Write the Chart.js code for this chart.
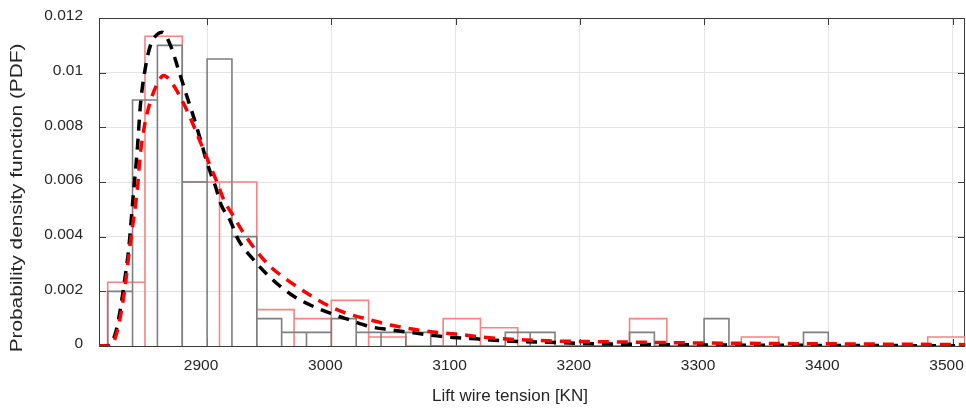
<!DOCTYPE html>
<html>
<head>
<meta charset="utf-8">
<style>
  body { margin: 0; background: #fff; }
  #wrap { width: 966px; height: 408px; }
</style>
<script src="https://cdn.jsdelivr.net/npm/chart.js"></script>
<title>Lift wire tension PDF</title>
</head>
<body>
<div id="wrap"><canvas id="pdf_chart" width="966" height="408"></canvas></div>
<script>
// histogram 1 (gray): bins of 20 starting at 2820
const grayStart = 2820;
const grayWidth = 20;
const grayValues = [
  0.002, 0.009, 0.011, 0.006, 0.0105, 0.004, 0.001, 0.0005, 0.0005, 0.001,
  0.0005, 0.0005, 0.0005, 0, 0, 0, 0.0005, 0.0005, 0, 0,
  0, 0.0005, 0, 0, 0.001, 0, 0, 0, 0.0005, 0,
  0, 0, 0, 0
];

// histogram 2 (red): bins of 30 starting at 2820
const redStart = 2820;
const redWidth = 30;
const redValues = [
  0.00233, 0.01133, 0.006, 0.006, 0.00133, 0.001, 0.00167, 0.00033, 0, 0.001,
  0.00067, 0, 0, 0, 0.001, 0, 0, 0.00033, 0, 0,
  0, 0, 0.00033
];

// fitted density curves
const blackX = [2813, 2820, 2824, 2827, 2830, 2833, 2837, 2840, 2844, 2846.3, 2850.4, 2854.4, 2859.8, 2863.8,
  2870.5, 2877, 2884, 2889, 2895, 2900, 2907, 2911, 2919, 2925, 2937.5, 2951, 2967, 2983, 2999,
  3015, 3031, 3048, 3066, 3085, 3101, 3120, 3138, 3156, 3175, 3192, 3211, 3230, 3247, 3300, 3400, 3510];
const blackY = [0, 0.00001, 0.0002, 0.0006, 0.0013, 0.0022, 0.0036, 0.0052, 0.0073, 0.0088, 0.0102, 0.011, 0.0114, 0.01148,
  0.011, 0.0101, 0.0091, 0.0084, 0.0075, 0.0067, 0.0058, 0.0052, 0.00455, 0.0039, 0.00315, 0.0025, 0.0019, 0.0015, 0.0012,
  0.00095, 0.00071, 0.00059, 0.00048, 0.00037, 0.0003, 0.00025, 0.00019, 0.00016, 0.00014, 0.00011, 0.00008, 0.00007, 0.00006, 0.00004, 0.00002, 0.00001];

const redX = [2813, 2822, 2828, 2833.5, 2838, 2844, 2846, 2849, 2854, 2860, 2865, 2872, 2878.5, 2885, 2890.6, 2896,
  2902.7, 2909.3, 2913.4, 2921.4, 2929.4, 2939, 2951, 2964.4, 2980.5, 2996.5, 3012, 3030, 3047.5, 3065,
  3082, 3100, 3118.5, 3137, 3156, 3173.5, 3192, 3210, 3228, 3246, 3300, 3400, 3510];
const redY = [0, 0, 0.0006, 0.002, 0.0037, 0.0058, 0.0069, 0.0079, 0.0089, 0.0096, 0.0099, 0.0096, 0.0091, 0.0085, 0.0079, 0.0073,
  0.00657, 0.00584, 0.00535, 0.00474, 0.00413, 0.00352, 0.0029, 0.00242, 0.00193, 0.0015, 0.0012, 0.00097, 0.00077, 0.00062,
  0.00051, 0.00044, 0.00034, 0.00027, 0.00022, 0.00019, 0.00017, 0.00016, 0.00015, 0.00014, 0.00011, 0.00008, 0.00005];

const xTicks = [2900, 3000, 3100, 3200, 3300, 3400, 3500];
const yTicks = [0, 0.002, 0.004, 0.006, 0.008, 0.01, 0.012];
const xTitle = 'Lift wire tension [KN]';
const yTitle = 'Probability density function (PDF)';

// outline of the bars as one polyline
function histOutline(start, width, values) {
  const pts = [];
  values.forEach((h, i) => {
    const x0 = start + i * width, x1 = x0 + width;
    pts.push({ x: x0, y: 0 }, { x: x0, y: h }, { x: x1, y: h }, { x: x1, y: 0 });
  });
  return pts;
}
const toPoints = (xs, ys) => xs.map((x, i) => ({ x: x, y: ys[i] }));

const fontFamily = "'Liberation Sans', Arial, sans-serif";
const textColor = '#262626';

// box around the plot with inward tick marks
const boxPlugin = {
  id: 'box',
  beforeDatasetsDraw(chart) {
    const { ctx, chartArea: a, scales } = chart;
    ctx.save();
    ctx.strokeStyle = '#3a3a3a';
    ctx.lineWidth = 1;
    ctx.beginPath();
    ctx.rect(a.left + 0.5, a.top + 0.5, a.right - a.left - 1, a.bottom - a.top);
    xTicks.forEach(v => {
      const x = Math.round(scales.x.getPixelForValue(v)) + 0.5;
      ctx.moveTo(x, a.top); ctx.lineTo(x, a.top + 7);
      ctx.moveTo(x, a.bottom); ctx.lineTo(x, a.bottom - 7);
    });
    yTicks.forEach(v => {
      const y = Math.round(scales.y.getPixelForValue(v)) + 0.5;
      ctx.moveTo(a.left, y); ctx.lineTo(a.left + 7, y);
      ctx.moveTo(a.right, y); ctx.lineTo(a.right - 7, y);
    });
    ctx.stroke();
    ctx.restore();
  },
  // axis titles, the y one is a bit stretched like in the original figure
  afterDraw(chart) {
    const ctx = chart.ctx;
    ctx.save();
    ctx.fillStyle = textColor;
    ctx.textAlign = 'center';
    ctx.textBaseline = 'middle';
    ctx.font = '17px ' + fontFamily;
    ctx.fillText(xTitle, 510, 396);
    ctx.translate(18, 198);
    ctx.rotate(-Math.PI / 2);
    ctx.scale(1.3, 1);
    ctx.font = '16px ' + fontFamily;
    ctx.fillText(yTitle, 0, 0);
    ctx.restore();
  }
};

const tickFont = { family: fontFamily, size: 15.5 };

new Chart(document.getElementById('pdf_chart'), {
  type: 'line',
  data: {
    datasets: [
      {
        label: 'red fit',
        data: toPoints(redX, redY),
        borderColor: '#ff0000',
        borderWidth: 3.5,
        borderDash: [11, 8],
        pointRadius: 0,
        cubicInterpolationMode: 'monotone',
        order: 0
      },
      {
        label: 'black fit',
        data: toPoints(blackX, blackY),
        borderColor: '#000000',
        borderWidth: 3.5,
        borderDash: [11, 8],
        pointRadius: 0,
        cubicInterpolationMode: 'monotone',
        order: 1
      },
      {
        label: 'gray hist',
        data: histOutline(grayStart, grayWidth, grayValues),
        borderColor: '#7f7f7f',
        borderWidth: 1.6,
        pointRadius: 0,
        tension: 0,
        order: 2
      },
      {
        label: 'red hist',
        data: histOutline(redStart, redWidth, redValues),
        borderColor: '#f78383',
        borderWidth: 1.6,
        pointRadius: 0,
        tension: 0,
        order: 3
      }
    ]
  },
  options: {
    responsive: false,
    animation: false,
    devicePixelRatio: 1,
    layout: { padding: { top: 18, right: 1, left: 0, bottom: 0 } },
    plugins: { legend: { display: false }, tooltip: { enabled: false } },
    scales: {
      x: {
        type: 'linear',
        min: 2813,
        max: 3510,
        grid: { color: '#e4e4e4', drawTicks: false },
        border: { display: false },
        ticks: {
          includeBounds: false,
          padding: 10,
          labelOffset: -6,
          color: textColor,
          font: tickFont,
          callback: v => String(v)
        },
        afterBuildTicks: s => { s.ticks = xTicks.map(v => ({ value: v })); },
        afterFit: s => { s.height = 62; s.paddingLeft = 0; s.paddingRight = 0; },
        title: { display: false }
      },
      y: {
        min: 0,
        max: 0.012,
        grid: { color: '#e4e4e4', drawTicks: false },
        border: { display: false },
        ticks: {
          padding: 16,
          labelOffset: -2,
          color: textColor,
          font: tickFont,
          callback: v => String(+v.toFixed(3))
        },
        afterBuildTicks: s => { s.ticks = yTicks.map(v => ({ value: v })); },
        afterFit: s => { s.width = 99; s.paddingTop = 0; s.paddingBottom = 0; },
        title: { display: false }
      }
    }
  },
  plugins: [boxPlugin]
});
</script>
</body>
</html>
